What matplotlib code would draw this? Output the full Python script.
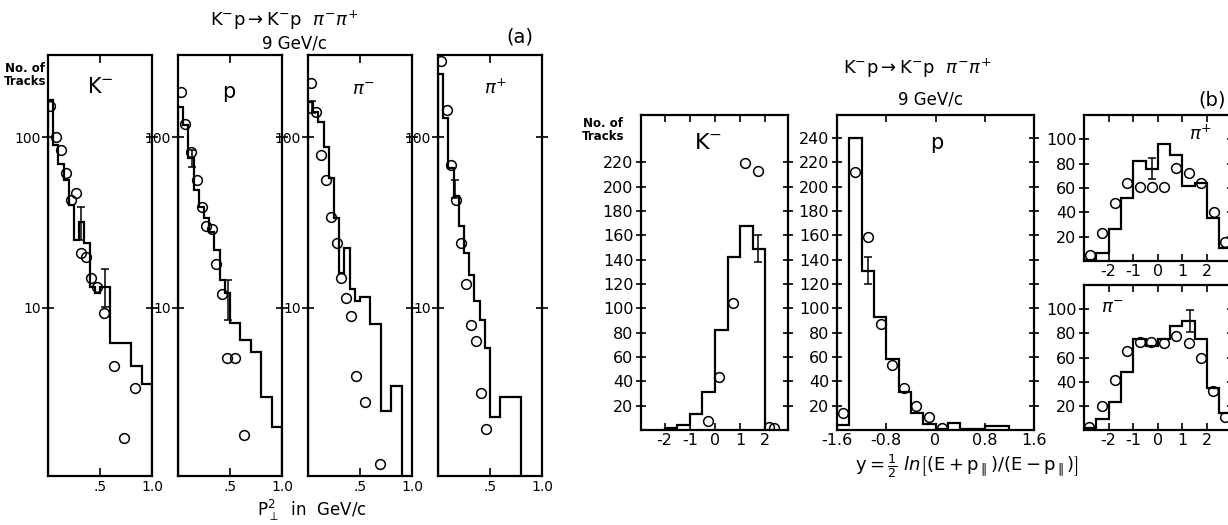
import matplotlib
matplotlib.use('Agg')
import matplotlib.pyplot as plt
from matplotlib.ticker import NullLocator

W, H = 1228, 525

# ---------------- panel (a): P_perp^2 spectra (log scale) ----------------
a_km_edges = [0, 0.05, 0.1, 0.15, 0.2, 0.25, 0.3, 0.35, 0.4, 0.45, 0.5, 0.55, 0.6, 0.8, 0.9, 1.0]
a_km_vals = [164, 90, 70, 56, 40, 25, 32, 24, 13.3, 12.2, 13.3, 13.3, 6.2, 4.6, 3.6]
a_km_x = [0.023, 0.081, 0.122, 0.177, 0.218, 0.266, 0.314, 0.369, 0.417, 0.471, 0.538, 0.632, 0.731, 0.840]
a_km_y = [152, 100, 84, 62, 43, 47, 21, 20, 15, 13.3, 9.4, 4.6, 1.74, 3.4]
a_km_err_x = [0.32, 0.545]
a_km_err_y = [32, 13.3]
a_km_err = [[7, 3.1], [7, 3.6]]

a_p_edges = [0, 0.05, 0.1, 0.15, 0.2, 0.25, 0.3, 0.35, 0.4, 0.45, 0.5, 0.6, 0.7, 0.8, 0.9, 1.0]
a_p_vals = [150, 117, 75, 49, 39, 33.6, 28, 21.8, 14.6, 12.2, 8.2, 6.5, 5.5, 3.0, 2.0]
a_p_x = [0.026, 0.067, 0.122, 0.18, 0.228, 0.266, 0.324, 0.365, 0.42, 0.468, 0.548, 0.638]
a_p_y = [184, 119, 82, 56, 38.8, 30, 29, 18.2, 12.1, 5.1, 5.1, 1.8]
a_p_err_x = [0.13, 0.478]
a_p_err_y = [75, 11]
a_p_err = [[8, 2.5], [9, 3.6]]

a_pim_edges = [0, 0.05, 0.1, 0.15, 0.2, 0.25, 0.3, 0.35, 0.4, 0.45, 0.5, 0.6, 0.7, 0.8, 0.9, 1.0]
a_pim_vals = [160, 140, 123, 88, 57.5, 33.6, 16, 22.4, 13, 11, 11.6, 8.1, 2.5, 3.5, 0.5]
a_pim_x = [0.026, 0.074, 0.122, 0.177, 0.225, 0.279, 0.321, 0.369, 0.417, 0.465, 0.545, 0.696]
a_pim_y = [208, 141, 78.5, 56, 34, 24, 15, 11.4, 9, 4.0, 2.8, 1.22]
a_pim_err_x = [0.035]
a_pim_err_y = [150]
a_pim_err = [[12], [12]]

a_pip_edges = [0, 0.05, 0.1, 0.15, 0.2, 0.25, 0.3, 0.35, 0.4, 0.45, 0.5, 0.6, 0.8, 1.0]
a_pip_vals = [233, 129, 66, 45, 30, 21, 15.5, 11, 8.5, 5.8, 2.3, 3.0, 0.5]
a_pip_x = [0.031, 0.082, 0.127, 0.175, 0.223, 0.274, 0.319, 0.37, 0.418, 0.466]
a_pip_y = [279, 143, 68.6, 43, 24, 13.9, 7.9, 6.4, 3.2, 1.95]
a_pip_err_x = [0.16]
a_pip_err_y = [50]
a_pip_err = [[6], [6]]

# ---------------- panel (b): rapidity spectra ----------------
b_km_edges = [-2, -1.5, -1, -0.5, 0, 0.5, 1, 1.5, 2]
b_km_vals = [2, 4, 13, 31, 82, 142, 168, 149]
b_km_x = [-0.29, 0.17, 0.70, 1.19, 1.69, 2.14, 2.34]
b_km_y = [7.7, 43.4, 104.3, 219.5, 212.6, 2.7, 1.4]

b_p_edges = [-1.6, -1.4, -1.2, -1.0, -0.8, -0.6, -0.4, -0.2, 0, 0.2, 0.4, 0.6, 0.8, 1.0, 1.2]
b_p_vals = [4, 240, 131, 93, 58, 31, 14, 5, 1, 6, 1, 1, 3, 3]
b_p_x = [-1.51, -1.30, -1.09, -0.89, -0.70, -0.51, -0.32, -0.11, 0.10]
b_p_y = [13.7, 211.8, 159, 87, 53.5, 34.8, 19.7, 10.4, 1.4]

b_pi_edges = [-3, -2.5, -2, -1.5, -1, -0.5, 0, 0.5, 1, 1.5, 2, 2.5, 3]
b_pip_vals = [1, 6.3, 26, 52, 82.5, 76, 96, 87, 62, 64, 35.6, 10.4]
b_pip_x = [-2.76, -2.26, -1.72, -1.24, -0.74, -0.23, 0.24, 0.76, 1.26, 1.76, 2.28, 2.75]
b_pip_y = [4.9, 22.8, 47.5, 64.4, 61, 61, 61, 76.8, 72, 64, 40, 15.9]

b_pim_vals = [1.4, 8.9, 23, 48, 75, 69.4, 75, 86, 90, 75, 34.7, 13.9]
b_pim_x = [-2.78, -2.26, -1.75, -1.27, -0.74, -0.26, 0.24, 0.75, 1.26, 1.74, 2.24, 2.75]
b_pim_y = [2.8, 20, 41.7, 65.3, 73, 72.8, 72.2, 77.8, 72.2, 59.7, 32.5, 11.1]

plt.rcParams['font.family'] = ['DejaVu Sans']
plt.rcParams['axes.unicode_minus'] = False


def pixel_axes(fig, left, right, top, bottom):
    return fig.add_axes([left / W, 1 - bottom / H, (right - left) / W, (bottom - top) / H])


def ftext(fig, x, y, s, **kw):
    kw.setdefault('ha', 'center')
    kw.setdefault('va', 'center')
    fig.text(x / W, 1 - y / H, s, **kw)


def draw(ax, edges, vals, px, py, base, ex=None, ey=None, eerr=None):
    ax.stairs(vals, edges, baseline=base, color='k', lw=1.6)
    ax.plot(px, py, 'o', ms=7, mfc='none', mec='k', mew=1.1)
    if ex is not None:
        ax.errorbar(ex, ey, yerr=eerr, fmt='none', ecolor='k', elinewidth=1.1,
                    capsize=3, capthick=1.1)
    for s in ax.spines.values():
        s.set_linewidth(1.6)


fig = plt.figure(figsize=(W / 100, H / 100), dpi=100)

# ---- (a)
a_data = [
    (a_km_edges, a_km_vals, a_km_x, a_km_y, a_km_err_x, a_km_err_y, a_km_err),
    (a_p_edges, a_p_vals, a_p_x, a_p_y, a_p_err_x, a_p_err_y, a_p_err),
    (a_pim_edges, a_pim_vals, a_pim_x, a_pim_y, a_pim_err_x, a_pim_err_y, a_pim_err),
    (a_pip_edges, a_pip_vals, a_pip_x, a_pip_y, a_pip_err_x, a_pip_err_y, a_pip_err),
]
for i, (e, v, x, y, ex, ey, er) in enumerate(a_data):
    left = 48 + 130 * i
    ax = pixel_axes(fig, left, left + 104, 55, 476)
    ax.set_yscale('log')
    draw(ax, e, v, x, y, 0.5, ex, ey, er)
    ax.set_xlim(0, 1)
    ax.set_ylim(1.04, 302)
    ax.yaxis.set_minor_locator(NullLocator())
    ax.set_yticks([10, 100])
    ax.set_yticklabels(['10', '100'], fontsize=10)
    ax.set_xticks([0.5, 1.0])
    ax.set_xticklabels(['.5', '1.0'], fontsize=10)
    ax.tick_params(axis='x', direction='in', top=True, length=6, width=1.2, pad=3)
    ax.tick_params(axis='y', direction='inout', right=True, length=8, width=1.2, pad=1)

ftext(fig, 284, 20, r'$\mathrm{K}^{-}\mathrm{p}\rightarrow\mathrm{K}^{-}\mathrm{p}\ \ \pi^{-}\pi^{+}$', fontsize=13)
ftext(fig, 294, 43, '9 GeV/c', fontsize=12)
ftext(fig, 520, 37, '(a)', fontsize=14)
ftext(fig, 25, 75, 'No. of\nTracks', fontsize=8.5, fontweight='bold', linespacing=1.0)
ftext(fig, 100, 87, r'$\mathrm{K}^{-}$', fontsize=15)
ftext(fig, 229, 92, 'p', fontsize=15)
ftext(fig, 363, 90, r'$\pi^{-}$', fontsize=13)
ftext(fig, 495, 88, r'$\pi^{+}$', fontsize=13)
ftext(fig, 312, 510, r'$\mathrm{P}_{\perp}^{2}$  in  GeV/c', fontsize=12)

# ---- (b)
ax = pixel_axes(fig, 641, 788, 115, 430)
draw(ax, b_km_edges, b_km_vals, b_km_x, b_km_y, 0, [1.72], [149], [11])
ax.set_xlim(-2.94, 2.9)
ax.set_ylim(0, 259)
ax.set_xticks([-2, -1, 0, 1, 2])
ax.set_xticklabels(['-2', '-1', '0', '1', '2'], fontsize=11.5)
ax.set_yticks(range(20, 221, 20))
ax.set_yticklabels([str(t) for t in range(20, 221, 20)], fontsize=11.5)

ax2 = pixel_axes(fig, 837, 1034, 115, 430)
draw(ax2, b_p_edges, b_p_vals, b_p_x, b_p_y, 0, [-1.094], [131], [11])
ax2.set_xlim(-1.6, 1.6)
ax2.set_ylim(0, 259)
ax2.set_xticks([-1.6, -0.8, 0, 0.8, 1.6])
ax2.set_xticklabels(['-1.6', '-0.8', '0', '0.8', '1.6'], fontsize=11.5)
ax2.set_yticks(range(20, 241, 20))
ax2.set_yticklabels([str(t) for t in range(20, 241, 20)], fontsize=11.5)

ax3 = pixel_axes(fig, 1084, 1231.6, 115, 261)
draw(ax3, b_pi_edges, b_pip_vals, b_pip_x, b_pip_y, 0, [-0.23], [76], [9])
ax4 = pixel_axes(fig, 1084, 1231.6, 285, 430)
draw(ax4, b_pi_edges, b_pim_vals, b_pim_x, b_pim_y, 0, [1.3], [90], [9])
for a in (ax3, ax4):
    a.set_xlim(-3, 3)
    a.set_ylim(0, 120)
    a.set_xticks([-2, -1, 0, 1, 2])
    a.set_xticklabels(['-2', '-1', '0', '1', '2'], fontsize=11.5)
    a.set_yticks(range(20, 101, 20))
    a.set_yticklabels([str(t) for t in range(20, 101, 20)], fontsize=11.5)

for a in (ax, ax2, ax3, ax4):
    a.tick_params(direction='in', top=True, right=True, length=5, width=1.2, pad=2)
    a.tick_params(axis='y', direction='inout', length=7)

ftext(fig, 917, 68, r'$\mathrm{K}^{-}\mathrm{p}\rightarrow\mathrm{K}^{-}\mathrm{p}\ \ \pi^{-}\pi^{+}$', fontsize=13)
ftext(fig, 930, 100, '9 GeV/c', fontsize=12)
ftext(fig, 1212, 100, '(b)', fontsize=14)
ftext(fig, 603, 130, 'No. of\nTracks', fontsize=8.5, fontweight='bold', linespacing=1.0)
ftext(fig, 708, 143, r'$\mathrm{K}^{-}$', fontsize=16)
ftext(fig, 937, 143, 'p', fontsize=15)
ftext(fig, 1200, 134, r'$\pi^{+}$', fontsize=13)
ftext(fig, 1112, 308, r'$\pi^{-}$', fontsize=13)
ftext(fig, 967, 466,
      r'$\mathrm{y}=\frac{1}{2}\ \mathit{ln}\left[(\mathrm{E}+\mathrm{p}_{\parallel})/(\mathrm{E}-\mathrm{p}_{\parallel})\right]$',
      fontsize=13)

fig.savefig('out.png', dpi=100)
